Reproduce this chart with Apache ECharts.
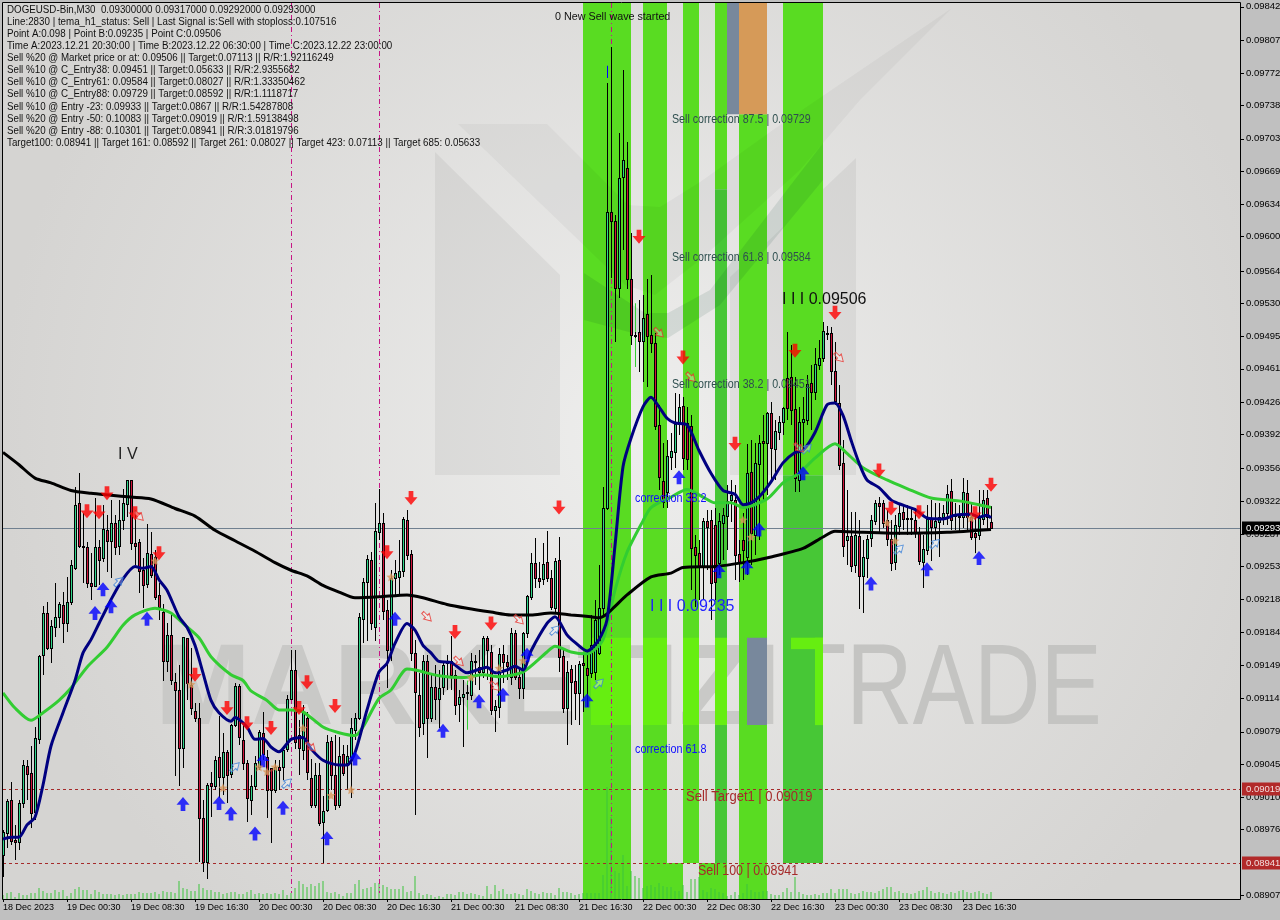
<!DOCTYPE html>
<html><head><meta charset="utf-8">
<style>html,body{margin:0;padding:0;background:#c0c0c0;overflow:hidden}#c{width:1280px;height:920px}</style>
<script src="https://cdn.jsdelivr.net/npm/echarts@6/dist/echarts.min.js"></script>
</head><body><div id="c"></div>
<script>
const PT=1e-5;
const xTickLabels=["18 Dec 2023","19 Dec 00:30","19 Dec 08:30","19 Dec 16:30","20 Dec 00:30","20 Dec 08:30","20 Dec 16:30","21 Dec 00:30","21 Dec 08:30","21 Dec 16:30","22 Dec 00:30","22 Dec 08:30","22 Dec 16:30","23 Dec 00:30","23 Dec 08:30","23 Dec 16:30"];
const yTickLabels=["0.09842","0.09807","0.09772","0.09738","0.09703","0.09669","0.09634","0.09600","0.09564","0.09530","0.09495","0.09461","0.09426","0.09392","0.09356","0.09322","0.09287","0.09253","0.09218","0.09184","0.09149","0.09114","0.09079","0.09045","0.09010","0.08976","0.08907"];
const open=[8949,8972,9007,8965,8963,9004,9043,9036,8995,9071,
9160,9204,9167,9189,9200,9212,9194,9216,9251,9320,
9275,9273,9236,9232,9273,9262,9291,9280,9299,9274,
9302,9319,9344,9278,9279,9249,9234,9266,9263,9223,
9205,9154,9181,9131,9123,9062,9178,9128,9101,9094,
8988,8942,9025,9022,9052,9031,9058,9035,9086,9127,
9070,9046,9007,9022,9042,9078,9052,9041,9018,9042,
9042,9061,9114,9144,9076,9060,9094,9030,9002,9033,
8984,8997,9069,9033,9002,9056,9046,9052,9081,9094,
9198,9237,9260,9189,9289,9299,9207,9165,9241,9242,
9248,9302,9266,9162,9118,9088,9154,9093,9126,9114,
9126,9151,9153,9139,9108,9116,9120,9118,9154,9147,
9142,9178,9163,9102,9105,9161,9152,9137,9183,9137,
9125,9183,9221,9257,9241,9240,9258,9241,9209,9260,
9159,9104,9145,9132,9120,9151,9146,9141,9142,9162,
9209,9315,9626,9617,9546,9663,9672,9556,9497,9500,
9490,9519,9497,9488,9402,9343,9331,9368,9373,9403,
9422,9404,9401,9273,9267,9252,9301,9302,9297,9257,
9299,9306,9323,9323,9266,9281,9263,9352,9286,9361,
9385,9383,9414,9377,9394,9405,9451,9452,9419,9344,
9405,9407,9446,9437,9465,9472,9499,9499,9459,9425,
9362,9281,9285,9254,9285,9243,9262,9283,9301,9320,
9320,9302,9282,9258,9296,9310,9304,9304,9302,9288,
9258,9270,9303,9294,9300,9305,9309,9332,9308,9306,
9305,9330,9305,9288,9286,9303,9325,9300];
const close=[8973,9006,8964,8963,9004,9044,9035,8993,9072,9159,
9204,9167,9190,9200,9213,9194,9216,9254,9318,9275,
9273,9236,9232,9273,9260,9292,9280,9299,9273,9302,
9320,9344,9278,9275,9248,9233,9267,9244,9221,9210,
9154,9181,9133,9123,9062,9179,9130,9104,9093,8988,
8942,9023,9022,9049,9031,9058,9033,9086,9127,9073,
9046,9009,9022,9046,9079,9056,9018,9018,9042,9039,
9060,9114,9144,9068,9062,9100,9037,9002,9033,8983,
8996,9068,9033,9002,9054,9036,9054,9083,9094,9200,
9237,9261,9194,9290,9299,9206,9165,9241,9246,9248,
9303,9265,9162,9121,9084,9154,9093,9126,9114,9125,
9149,9153,9139,9107,9116,9119,9121,9154,9153,9142,
9178,9165,9102,9106,9161,9152,9148,9183,9137,9125,
9183,9222,9257,9241,9238,9256,9241,9210,9259,9158,
9104,9142,9131,9120,9150,9149,9139,9170,9197,9209,
9314,9626,9617,9546,9662,9681,9556,9497,9496,9490,
9515,9496,9488,9401,9347,9321,9369,9374,9403,9421,
9367,9366,9272,9265,9252,9301,9295,9236,9237,9301,
9307,9322,9328,9265,9257,9270,9351,9288,9362,9383,
9383,9414,9378,9396,9405,9420,9420,9418,9346,9405,
9408,9445,9437,9466,9472,9501,9498,9459,9427,9360,
9275,9285,9253,9286,9243,9263,9282,9302,9320,9317,
9299,9282,9257,9297,9309,9303,9303,9303,9289,9259,
9271,9303,9294,9301,9305,9309,9329,9302,9306,9305,
9331,9305,9284,9284,9304,9323,9305,9293];
const high=[8976,9008,9026,8981,9007,9049,9049,9064,9084,9160,
9211,9216,9197,9236,9216,9226,9242,9260,9337,9351,
9309,9279,9267,9325,9281,9318,9307,9323,9307,9323,
9335,9344,9344,9312,9282,9262,9298,9289,9270,9236,
9214,9194,9205,9141,9149,9179,9178,9167,9109,9109,
9007,9025,9037,9054,9096,9078,9060,9087,9130,9129,
9086,9049,9033,9054,9081,9100,9060,9041,9049,9049,
9062,9118,9165,9165,9091,9107,9100,9050,9046,9046,
9011,9076,9073,9076,9073,9065,9065,9093,9099,9204,
9241,9265,9268,9320,9334,9309,9218,9249,9260,9281,
9305,9312,9270,9176,9141,9160,9160,9139,9149,9144,
9154,9160,9180,9144,9123,9133,9128,9162,9160,9165,
9180,9180,9170,9112,9167,9170,9160,9188,9186,9146,
9184,9223,9267,9283,9258,9278,9290,9249,9262,9284,
9165,9154,9149,9149,9154,9160,9165,9202,9218,9254,
9337,9762,9800,9623,9709,9776,9700,9604,9500,9533,
9539,9555,9560,9499,9423,9383,9386,9393,9436,9435,
9431,9421,9412,9286,9281,9304,9312,9312,9315,9309,
9315,9339,9344,9339,9281,9309,9382,9386,9383,9391,
9412,9416,9426,9407,9411,9421,9500,9486,9452,9421,
9431,9454,9465,9483,9491,9510,9506,9505,9489,9444,
9386,9333,9310,9310,9302,9281,9286,9307,9323,9326,
9323,9312,9302,9307,9318,9318,9318,9315,9315,9294,
9286,9318,9323,9320,9320,9318,9339,9345,9320,9318,
9346,9344,9320,9307,9333,9333,9333,9317];
const low=[8926,8957,8960,8944,8955,8999,9007,8978,8986,9066,
9139,9165,9151,9179,9188,9172,9184,9212,9249,9272,
9236,9230,9218,9231,9233,9258,9247,9241,9265,9265,
9291,9305,9270,9254,9225,9209,9230,9241,9218,9197,
9132,9142,9128,9032,9022,9041,9112,9097,9089,8942,
8931,8924,8989,9018,9009,9012,9004,9030,9084,9065,
9039,8984,8991,9018,9039,9049,8988,8962,9015,9018,
9028,9058,9112,9061,9033,9049,9028,8999,8999,8980,
8941,8995,9018,8997,8999,9032,9018,9009,9070,9091,
9172,9175,9186,9175,9281,9197,9125,9154,9223,9223,
9242,9260,9154,8991,9073,9076,9051,9089,9091,9083,
9118,9123,9123,9097,9089,9063,9112,9112,9128,9123,
9136,9133,9097,9079,9094,9130,9133,9128,9133,9114,
9114,9178,9218,9230,9230,9233,9237,9207,9205,9142,
9099,9065,9086,9091,9086,9100,9105,9136,9133,9160,
9202,9312,9557,9489,9536,9586,9545,9486,9493,9458,
9447,9442,9478,9397,9333,9315,9314,9354,9357,9391,
9354,9354,9228,9210,9218,9218,9249,9197,9218,9244,
9260,9270,9300,9239,9237,9239,9244,9254,9265,9281,
9323,9328,9344,9344,9386,9391,9407,9402,9331,9331,
9375,9402,9397,9428,9460,9468,9491,9444,9423,9354,
9263,9254,9247,9246,9208,9204,9241,9273,9297,9289,
9293,9275,9248,9249,9286,9291,9286,9286,9283,9254,
9230,9265,9259,9281,9263,9297,9297,9291,9291,9289,
9293,9291,9281,9267,9281,9297,9291,9292];
const volume=[4,6,7,2,6,4,4,6,6,11,8,6,6,9,7,9,3,6,10,12,9,9,5,9,7,5,5,5,4,5,4,5,5,5,7,6,6,6,7,5,8,7,7,6,18,11,10,8,8,15,11,9,9,7,7,5,6,7,7,5,5,7,9,5,6,5,6,5,6,5,9,4,6,11,18,15,12,15,13,16,18,7,6,7,5,3,6,6,15,19,10,11,12,16,16,14,12,10,10,10,13,7,8,23,6,4,5,4,2,3,2,5,5,4,7,7,5,6,5,4,3,13,5,14,8,10,5,5,6,5,4,10,8,6,5,7,6,6,4,11,7,7,6,4,5,6,6,6,6,6,24,112,82,28,26,44,13,28,23,21,11,13,14,12,16,13,12,12,8,8,14,7,20,20,22,9,7,11,10,7,6,3,4,7,4,6,15,9,7,7,8,8,5,4,4,7,11,7,22,7,5,4,4,5,4,6,6,10,6,10,10,10,6,5,6,8,7,7,6,8,10,12,12,7,8,6,6,5,6,8,9,12,8,6,7,6,5,7,6,8,9,7,6,7,8,6,5,7];
const blackIdx=[0,4,8,12,17,22,27,32,37,43,48,53,58,63,68,72,76,80,84,88,94,101,105,111,116,122,127,132,137,142,147,149,151,153,156,162,167,170,178,185,192,200,205,208,215,223,236,247];
const blackVal=[9373,9360,9346,9341,9333,9330,9328,9326,9324,9314,9306,9291,9280,9269,9257,9249,9243,9233,9226,9220,9221,9223,9220,9213,9209,9205,9202,9202,9204,9202,9200,9199,9203,9211,9223,9242,9246,9252,9253,9257,9263,9272,9284,9290,9289,9288,9289,9292];
const blueIdx=[0,2,4,6,8,10,12,15,18,20,22,24,27,30,33,35,37,39,41,44,46,48,50,52,54,57,58,61,63,65,67,69,72,75,77,80,84,86,88,91,94,96,98,101,103,105,107,109,112,116,121,123,126,128,130,132,136,138,141,143,146,149,151,153,155,157,160,162,164,166,168,171,174,177,180,183,185,187,189,192,195,198,200,203,206,208,210,212,214,216,219,222,224,228,231,235,238,242,244,246,247];
const blueVal=[8966,8968,8968,8981,8989,9023,9064,9099,9133,9162,9176,9193,9218,9240,9253,9251,9253,9239,9228,9200,9189,9170,9141,9112,9099,9090,9094,9084,9071,9072,9063,9058,9071,9073,9061,9049,9044,9044,9057,9102,9142,9151,9172,9193,9186,9170,9162,9153,9152,9141,9147,9141,9144,9148,9144,9164,9193,9200,9181,9173,9164,9176,9197,9275,9358,9388,9421,9431,9421,9409,9404,9402,9375,9351,9333,9329,9318,9320,9326,9342,9362,9373,9375,9394,9423,9425,9412,9386,9362,9344,9336,9323,9319,9313,9304,9303,9307,9308,9305,9307,9304];
const greenIdx=[0,3,7,10,14,17,21,26,30,33,38,42,45,49,52,57,60,62,66,69,72,75,80,84,88,90,94,97,101,103,109,115,120,124,130,136,138,142,146,150,153,156,160,162,167,171,175,178,182,185,191,195,199,203,208,211,215,221,226,232,239,244,247];
const greenVal=[9120,9104,9091,9099,9112,9125,9147,9168,9191,9202,9209,9204,9193,9178,9158,9139,9133,9122,9112,9102,9102,9100,9084,9078,9075,9084,9114,9123,9145,9144,9138,9136,9139,9137,9142,9163,9169,9163,9161,9176,9228,9268,9301,9315,9326,9334,9326,9320,9320,9315,9324,9341,9351,9367,9382,9372,9357,9344,9335,9325,9322,9318,9315];
const sellArrowIdx=[21,24,26,33,39,48,56,61,67,74,76,83,96,102,113,122,139,159,170,183,198,208,219,222,229,243,247];
const sellArrowVal=[9311,9310,9330,9309,9267,9139,9104,9088,9083,9104,9131,9106,9268,9325,9184,9193,9315,9600,9473,9382,9480,9520,9354,9314,9310,9309,9339];
const buyArrowIdx=[23,25,27,36,45,54,57,63,65,70,81,88,98,110,119,125,131,146,169,179,186,189,200,217,231,244];
const buyArrowVal=[9204,9229,9211,9198,9003,9004,8993,8972,9049,8999,8967,9051,9198,9080,9111,9118,9160,9112,9347,9248,9252,9292,9351,9235,9250,9262];
const starIdx=[38,47,55,64,66,68,75,82,87,97,117,124,130,185,187,221,223,242];
const starVal=[9259,9129,9020,9042,9037,9042,9083,9012,9018,9242,9136,9146,9154,9302,9284,9299,9280,9304];
const hollowUpIdx=[29,58,71,138,149,201,224,233];
const hollowUpVal=[9237,9042,9025,9186,9130,9377,9271,9277];
const hollowDownIdx=[34,77,106,114,123,129,164,172,199,209];
const hollowDownVal=[9306,9063,9200,9153,9127,9197,9499,9452,9378,9473];
const vLineIdx=[72,94,152];
const lastPrice=[9293];
const targetLevels=[9019,8941];
const TOP=9846,BOT=8903;
const brightBands=[[145,157,TOP,BOT],[160,166,TOP,8941],[160,170,8941,BOT],[170,174,TOP,8941],[174,181,8941,BOT],[178,181,TOP,9650],[184,191,9729,BOT],[195,205,TOP,9349]];
const darkBands=[[178,181,9650,8941],[195,205,9349,8941]];
const limeBands=[[147,157,9178,9086],[160,166,9178,9086],[170,174,9178,9086],[178,181,9178,9086],[197,205,9178,9166],[203,205,9178,9086]];
const orangeBands=[[184,191,TOP,9729]];
const slateBands=[[181,184,TOP,9729],[186,191,9178,9086]];
const thinGreen=[[116,9133,9081],[158,9530,9463],[243,9288,9267]];
const thinBlue=[[151,9780,9767]];
const infoLines=["DOGEUSD-Bin,M30  0.09300000 0.09317000 0.09292000 0.09293000","Line:2830 | tema_h1_status: Sell | Last Signal is:Sell with stoploss:0.107516","Point A:0.098 | Point B:0.09235 | Point C:0.09506","Time A:2023.12.21 20:30:00 | Time B:2023.12.22 06:30:00 | Time C:2023.12.22 23:00:00","Sell %20 @ Market price or at: 0.09506 || Target:0.07113 || R/R:1.92116249","Sell %10 @ C_Entry38: 0.09451 || Target:0.05633 || R/R:2.9355682","Sell %10 @ C_Entry61: 0.09584 || Target:0.08027 || R/R:1.33350462","Sell %10 @ C_Entry88: 0.09729 || Target:0.08592 || R/R:1.1118717","Sell %10 @ Entry -23: 0.09933 || Target:0.0867 || R/R:1.54287808","Sell %20 @ Entry -50: 0.10083 || Target:0.09019 || R/R:1.59138498","Sell %20 @ Entry -88: 0.10301 || Target:0.08941 || R/R:3.01819796","Target100: 0.08941 || Target 161: 0.08592 || Target 261: 0.08027 || Target 423: 0.07113 || Target 685: 0.05633"];

const P=v=>v*PT;
const cats=Array(310).fill('');xTickLabels.forEach((t,k)=>cats[k*16]=t);
const pairs=(a,b)=>a.map((x,k)=>[x,P(b[k])]);
const FONT='"Liberation Sans",Arial,sans-serif';
const ARROW='path://M3 0H7V5.5H10.5L5 12.5L-.5 5.5H3Z';
const STAR='path://M5 0L6.4 3.5L10 3.8L7.3 6.2L8.1 10L5 8L1.9 10L2.7 6.2L0 3.8L3.6 3.5Z';
function bandSeries(list,color,z){return {type:'custom',coordinateSystem:'cartesian2d',silent:true,z,clip:true,
 data:list.map(b=>[b[0],P(b[2]),b[1],P(b[3])]),encode:{x:[0,2],y:[1,3]},
 renderItem:(p,api)=>{const a=api.coord([api.value(0),api.value(1)]),c=api.coord([api.value(2),api.value(3)]);
  return {type:'rect',shape:{x:a[0],y:a[1],width:c[0]-a[0],height:c[1]-a[1]},style:{fill:color}};}};}
const pxRect=(x,y,w,h,fill)=>({type:'rect',shape:{x,y,width:w,height:h},style:{fill}});
function candleSeries(){return {type:'custom',silent:true,z:4,clip:false,
 data:open.map((o,k)=>[k,P(o),P(close[k]),P(low[k]),P(high[k])]),encode:{x:0,y:[1,2,3,4]},
 renderItem:(p,api)=>{const i=api.value(0),o=api.value(1),c=api.value(2);
  const cx=Math.round(api.coord([i,o])[0]);
  const Y=v=>Math.round(api.coord([i,v])[1]);
  const t=Y(Math.max(o,c)),b=Y(Math.min(o,c)),hi=Y(api.value(4)),lo=Y(api.value(3));
  const kids=[pxRect(cx,hi,1,Math.max(lo-hi,1),'#000'),pxRect(cx-1,t,3,Math.max(b-t,1)+1,'#000')];
  if(b-t>=2)kids.push(pxRect(cx,t+1,1,b-t-1,c>o?'#2fd68a':'#d0143c'));
  return {type:'group',children:kids};}};}
function thinSeries(list,color){return {type:'custom',silent:true,z:3,data:list.map(b=>[b[0],P(b[1]),P(b[2])]),encode:{x:0,y:[1,2]},
 renderItem:(p,api)=>{const a=api.coord([api.value(0),api.value(1)]),c=api.coord([api.value(0),api.value(2)]);
  return pxRect(Math.round(a[0]),a[1],1,c[1]-a[1],color);}};}
function dashes(horizontal,pos,from,to,pattern,color){const out=[];let s=from,k=0;
 while(s<to){const len=pattern[k%pattern.length];if(k%2===0)out.push(horizontal?pxRect(s,pos,Math.min(len,to-s),1,color):pxRect(pos,s,1,Math.min(len,to-s),color));s+=len;k++;}
 return {type:'group',children:out};}
function priceRules(levels,color,pattern){return {type:'custom',silent:true,z:3,clip:false,data:levels.map(v=>[0,P(v)]),encode:{x:0,y:1},
 renderItem:(p,api)=>dashes(true,Math.round(api.coord([0,api.value(1)])[1]),3,1240,pattern,color)};}
function timeRules(list,color,pattern){return {type:'custom',silent:true,z:3,clip:false,data:list.map(i=>[i,P(BOT)]),encode:{x:0,y:1},
 renderItem:(p,api)=>dashes(false,Math.round(api.coord([api.value(0),api.value(1)])[0]),3,893,pattern,color)};}
function priceTag(levels,bg,fg){return {type:'custom',silent:true,z:20,clip:false,data:levels.map(v=>[0,P(v)]),encode:{x:0,y:1},
 renderItem:(p,api)=>{const y=Math.round(api.coord([0,api.value(1)])[1])+.5;
  return {type:'group',children:[
   {type:'rect',shape:{x:1242,y:y-7,width:38,height:13},style:{fill:bg}},
   {type:'text',style:{x:1246,y:y-.5,text:api.value(1).toFixed(5),fill:fg,fontSize:9.5,fontFamily:FONT,verticalAlign:'middle',textVerticalAlign:'middle'}}
  ]};}};}
function lineS(idx,val,color,w,z){return {type:'line',data:pairs(idx,val),showSymbol:false,smooth:.25,z,silent:true,lineStyle:{color,width:w},animation:false};}
function scat(idx,val,symbol,size,itemStyle,rot,z){return {type:'scatter',data:pairs(idx,val),symbol,symbolSize:size,symbolRotate:rot||0,itemStyle,silent:true,z:z||8};}
function txt(x,y,s,size,fill,sx){return {type:'text',x,y,z:60,silent:true,scaleX:sx||1,style:{text:s,fontSize:size,fill,fontFamily:FONT,verticalAlign:'middle'}};}
function poly(pts,fill,z){return {type:'polygon',z,silent:true,shape:{points:pts},style:{fill}};}

const series=[
 bandSeries(brightBands,'#59dc22',1),bandSeries(darkBands,'#47c736',1),bandSeries(limeBands,'#66ee11',1.1),
 bandSeries(orangeBands,'#d69a58',1),bandSeries(slateBands,'#78889c',1.1),
 {type:'bar',yAxisIndex:1,data:volume,barWidth:1,silent:true,z:2,itemStyle:{color:'#3cc43c'}},
 candleSeries(),
 thinSeries(thinGreen,'#32cd32'),thinSeries(thinBlue,'#0000ff'),
 timeRules(vLineIdx,'#c71585',[5,3,1,3]),
 priceRules(lastPrice,'#708090',[1237,0]),
 priceRules(targetLevels,'#a52a2a',[3,3]),
 priceTag(lastPrice,'#000','#fff'),priceTag(targetLevels,'#b22a2a','#f3dede'),
 lineS(greenIdx,greenVal,'#32cd32',3,5),lineS(blackIdx,blackVal,'#000',3,6),lineS(blueIdx,blueVal,'#000080',3,7),
 scat(sellArrowIdx,sellArrowVal,ARROW,[13,14],{color:'#ff0000'}),
 scat(buyArrowIdx,buyArrowVal,ARROW,[13,14],{color:'#0000ff'},180),
 scat(starIdx,starVal,STAR,9,{color:'#d9975a'}),
 scat(hollowUpIdx,hollowUpVal,ARROW,[8,12],{color:'rgba(255,255,255,.4)',borderColor:'#3a80d8',borderWidth:1},135),
 scat(hollowDownIdx,hollowDownVal,ARROW,[8,12],{color:'rgba(255,255,255,.4)',borderColor:'#e8302a',borderWidth:1},45)
];
const left=[[435,152],[560,275],[560,475],[435,475]],right=[[730,277],[856,158],[856,475],[730,475]];
const sweep=[[458,124],[547,124],[628,205],[660,207],[700,182],[780,125],[952,8],[860,100],[800,170],[700,260],[655,295],[625,285]];
const sweep2=[[584,273],[645,313],[668,313],[710,290],[823,143],[823,180],[720,305],[668,338],[640,335],[584,320]];
const graphic=[
 {type:'rect',z:-5,silent:true,shape:{x:2,y:2,width:1238,height:897},style:{fill:{type:'radial',x:.52,y:.48,r:.72,colorStops:[{offset:0,color:'#eeeeed'},{offset:1,color:'#d5d4d2'}]}}},
 poly(left,'rgba(0,0,0,.05)',-4),poly(right,'rgba(0,0,0,.05)',-4),poly(sweep,'rgba(0,0,0,.035)',1.5),poly(sweep2,'rgba(0,60,40,.1)',1.5),
 {type:'text',x:155,y:692,z:-3,silent:true,scaleX:1,style:{text:'MARKETIZI',fontSize:115,fontWeight:'bold',fill:'#c9c9c7',fontFamily:'"Liberation Sans"',verticalAlign:'middle'}},
 {type:'text',x:790,y:692,z:-3,silent:true,scaleX:.8,style:{text:'TRADE',fontSize:115,fill:'#c4c4c2',fontFamily:'"Liberation Sans"',verticalAlign:'middle'}},
 {type:'rect',z:50,silent:true,shape:{x:2.5,y:2.5,width:1238,height:897},style:{fill:'none',stroke:'#000',lineWidth:1}},
 ...infoLines.map((s,k)=>txt(7,10+k*12.1,s,10,'#111',.977)),
 txt(555,17,'0 New Sell wave started',11.5,'#111',.935),
 txt(672,120,'Sell correction 87.5 | 0.09729',12,'#2f4f4f',.89),
 txt(672,258,'Sell correction 61.8 | 0.09584',12,'#2f4f4f',.89),
 txt(672,385,'Sell correction 38.2 | 0.09451',12,'#2f4f4f',.89),
 txt(782,300,'I I I 0.09506',16,'#111'),
 txt(650,607,'I I I 0.09235',16,'#1f1fff'),
 txt(118,455,'I V',16,'#222'),
 txt(635,499,'correction 38.2',12,'#1010ff',.9),
 txt(635,750,'correction 61.8',12,'#1010ff',.9),
 txt(686,797,'Sell Target1 | 0.09019',14,'#a52a2a',.93),
 txt(698,871,'Sell 100 | 0.08941',14,'#a52a2a',.89)
];
const yVals=yTickLabels.map(Number);
const chart=echarts.init(document.getElementById('c'),null,{renderer:'canvas',width:1280,height:920});
chart.setOption({animation:false,backgroundColor:'#c0c0c0',
 grid:{left:1,top:3,width:1240,height:896,containLabel:false,outerBoundsMode:'none'},
 xAxis:{type:'category',data:cats,boundaryGap:true,axisLine:{show:false},
  axisTick:{show:true,alignWithLabel:true,length:3,interval:(i,v)=>v!=='',lineStyle:{color:'#000'}},
  axisLabel:{show:true,interval:(i,v)=>v!=='',align:'left',margin:4,color:'#000',fontSize:9,fontFamily:FONT,hideOverlap:false},splitLine:{show:false}},
 yAxis:[{type:'value',position:'right',min:BOT*PT,max:TOP*PT,splitLine:{show:false},
   axisLine:{show:false},axisTick:{show:true,length:3,customValues:yVals,lineStyle:{color:'#000'}},
   axisLabel:{show:true,customValues:yVals,formatter:v=>v.toFixed(5),color:'#000',fontSize:9.5,fontFamily:FONT,margin:5}},
  {type:'value',min:0,max:896,show:false}],
 series,graphic});
</script></body></html>
